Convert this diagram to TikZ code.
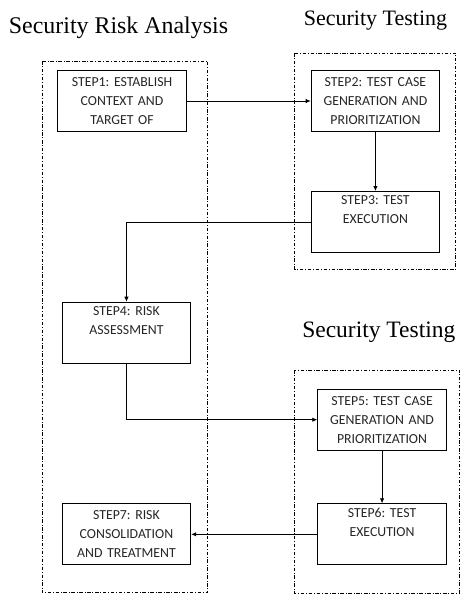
\documentclass[tikz,border=0pt]{standalone}
\usepackage{fontspec}
\setmainfont{Liberation Serif}
\newfontfamily\boxfont{Carlito}
\usetikzlibrary{arrows.meta}
\frenchspacing
\begin{document}
\begin{tikzpicture}[x=1pt,y=-1pt,
  stepbox/.style={draw, line width=1pt, anchor=north west, inner sep=0pt,
    text width=128.5pt, minimum height=61pt, align=center,
    font=\boxfont\fontsize{13.8}{19}\selectfont, text=black!85},
  flow/.style={line width=0.8pt, -{Latex[length=5pt,width=4.5pt]}},
  frame/.style={line width=0.6pt, dash pattern=on 3.5pt off 1.8pt on 0.8pt off 1.8pt},
  heading/.style={anchor=base, inner sep=0pt}]
\useasboundingbox (0,0) rectangle (460,595);

% dash-dot frames of the two activities
\draw[frame] (42,61) rectangle (207.7,592.5);
\draw[frame] (294.7,53) rectangle (455.7,269);
\draw[frame] (294.7,370) rectangle (459.5,593);

% headings
\node[heading, font=\fontsize{23.9}{26}\selectfont] (hsra) at (118.5,33.3) {Security Risk Analysis};
\node[heading, font=\fontsize{22}{24}\selectfont] (hst1) at (375.5,25) {Security Testing};
\node[heading, font=\fontsize{23.5}{26}\selectfont] (hst2) at (378.8,337.3) {Security Testing};

% steps
\node[stepbox] (s1) at (57.3,70) {STEP1: ESTABLISH\\CONTEXT AND\\TARGET OF};
\node[stepbox] (s2) at (310.7,70) {STEP2: TEST CASE\\GENERATION AND\\PRIORITIZATION};
\node[stepbox] (s3) at (310.7,191) {STEP3: TEST\\EXECUTION\\\strut};
\node[stepbox] (s4) at (61.7,301.7) {STEP4: RISK\\ASSESSMENT\\\strut};
\node[stepbox] (s5) at (317.3,388.7) {STEP5: TEST CASE\\GENERATION AND\\PRIORITIZATION};
\node[stepbox] (s6) at (317.3,503.3) {STEP6: TEST\\EXECUTION\\\strut};
\node[stepbox] (s7) at (61.7,503.3) {STEP7: RISK\\CONSOLIDATION\\AND TREATMENT};

% flow between steps
\draw[flow] (s1) -- (s2);
\draw[flow] (s2) -- (s3);
\draw[flow] (s3.west) -| (s4.north);
\draw[flow] (s4.south) |- (s5.west);
\draw[flow] (s5) -- (s6);
\draw[flow] (s6) -- (s7);
\end{tikzpicture}
\end{document}
